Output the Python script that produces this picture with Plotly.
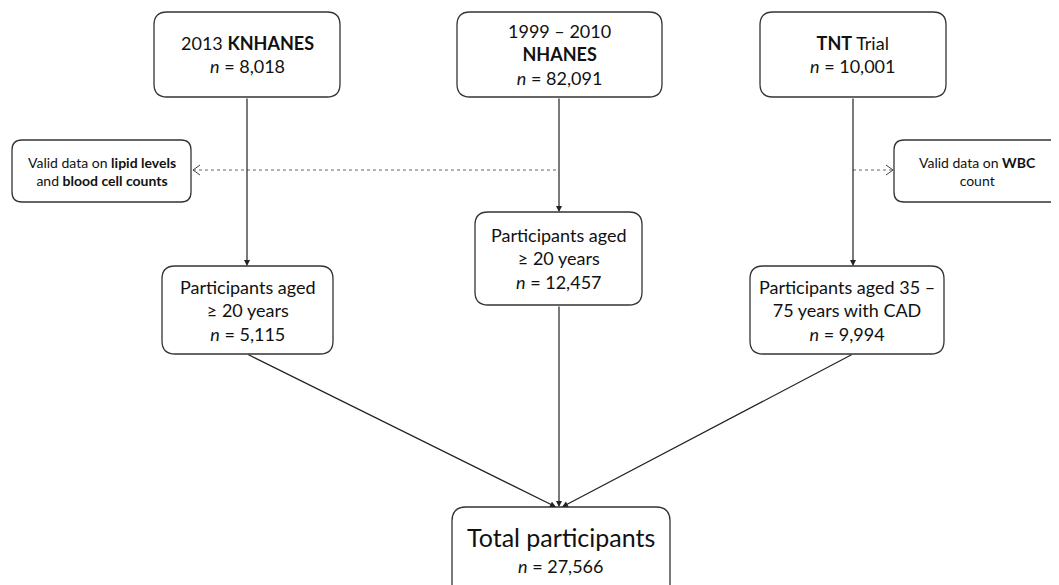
import plotly.graph_objects as go

# ---- data (text content of the flow chart) ----
source_names = ["2013 <b>KNHANES</b>", "1999 – 2010<br><b>NHANES</b>", "<b>TNT</b> Trial"]
source_n = ["8,018", "82,091", "10,001"]
step_labels = ["Participants aged<br>≥ 20 years", "Participants aged<br>≥ 20 years", "Participants aged 35 –<br>75 years with CAD"]
step_n = ["5,115", "12,457", "9,994"]
total_label = "Total participants"
total_n = "27,566"
side_labels = ["Valid data on <b>lipid levels</b><br>and <b>blood cell counts</b>", "Valid data on <b>WBC</b><br>count"]

# ---- layout geometry (pixels) ----
W, H = 1059, 585
OFF = 8  # page body margin compensation
src_boxes = [(154, 12, 340, 97), (457, 12, 662, 97), (760, 12, 946, 97)]
step_boxes = [(162, 266, 333, 354), (475, 212, 642, 305), (750, 266, 944, 354)]
total_box = (452, 507, 670, 600)
side_boxes = [(12, 140, 191, 202), (894, 140, 1075, 202)]

FONT = "Lato, 'Open Sans', sans-serif"
LC = "#333333"

def rrect(x0, y0, x1, y1, r):
    return (f"M {x0+r},{y0} L {x1-r},{y0} Q {x1},{y0} {x1},{y0+r} "
            f"L {x1},{y1-r} Q {x1},{y1} {x1-r},{y1} L {x0+r},{y1} "
            f"Q {x0},{y1} {x0},{y1-r} L {x0},{y0+r} Q {x0},{y0} {x0+r},{y0} Z")

fig = go.Figure()
fig.add_trace(go.Scatter(x=[OFF, W], y=[OFF, H], mode="markers", marker=dict(opacity=0),
                         hoverinfo="skip", showlegend=False))

shapes = []
annotations = []

def box(b, r, text, size, cx_shift=0):
    shapes.append(dict(type="path", path=rrect(*b, r), xref="x", yref="y",
                       line=dict(color=LC, width=1.3), fillcolor="white", layer="above"))
    annotations.append(dict(x=(b[0]+b[2])/2 + cx_shift, y=(b[1]+b[3])/2,
                            xref="x", yref="y", text=text, showarrow=False,
                            font=dict(family=FONT, size=size, color="#111"), align="center"))

for b, nm, n in zip(src_boxes, source_names, source_n):
    box(b, 13, f"{nm}<br><i>n</i> = {n}", 18)
for b, nm, n in zip(step_boxes, step_labels, step_n):
    box(b, 13, f"{nm}<br><i>n</i> = {n}", 18)
shapes.append(dict(type="path", path=rrect(*total_box, 14), xref="x", yref="y",
                   line=dict(color=LC, width=1.3), fillcolor="white", layer="above"))
annotations.append(dict(x=(total_box[0]+total_box[2])/2, y=537, xref="x", yref="y",
                        text=total_label, showarrow=False, font=dict(family=FONT, size=25, color="#111")))
annotations.append(dict(x=(total_box[0]+total_box[2])/2, y=566, xref="x", yref="y",
                        text=f"<i>n</i> = {total_n}", showarrow=False, font=dict(family=FONT, size=18, color="#111")))
box(side_boxes[0], 10, side_labels[0], 14)
box(side_boxes[1], 10, side_labels[1], 14, cx_shift=-7)

def arrow(x0, y0, x1, y1):
    annotations.append(dict(x=x1, y=y1, ax=x0, ay=y0, xref="x", yref="y", axref="x", ayref="y",
                            showarrow=True, arrowhead=2, arrowsize=1.0, arrowwidth=1.2,
                            arrowcolor="#222", text=""))

cx = [247, 559, 853]
arrow(cx[0], 97, cx[0], 266)
arrow(cx[1], 97, cx[1], 212)
arrow(cx[2], 97, cx[2], 266)
arrow(cx[1], 305, cx[1], 507)
arrow(cx[0], 354, 556, 507)
arrow(cx[2], 354, 562, 507)

ydot = 170
shapes.append(dict(type="line", x0=193, x1=cx[1], y0=ydot, y1=ydot, xref="x", yref="y",
                   line=dict(color="#666", width=1, dash="dot")))
shapes.append(dict(type="line", x0=cx[2], x1=893, y0=ydot, y1=ydot, xref="x", yref="y",
                   line=dict(color="#666", width=1, dash="dot")))
shapes.append(dict(type="path", path=f"M 200,{ydot-5} L 193,{ydot} L 200,{ydot+5}", xref="x", yref="y",
                   line=dict(color="#444", width=1)))
shapes.append(dict(type="path", path=f"M 886,{ydot-5} L 893,{ydot} L 886,{ydot+5}", xref="x", yref="y",
                   line=dict(color="#444", width=1)))

fig.update_layout(
    width=W - OFF, height=H - OFF, margin=dict(l=0, r=0, t=0, b=0),
    paper_bgcolor="white", plot_bgcolor="white",
    xaxis=dict(range=[OFF, W], visible=False, fixedrange=True),
    yaxis=dict(range=[H, OFF], visible=False, fixedrange=True),
    shapes=shapes, annotations=annotations, showlegend=False,
)
fig.write_html("out.html")
